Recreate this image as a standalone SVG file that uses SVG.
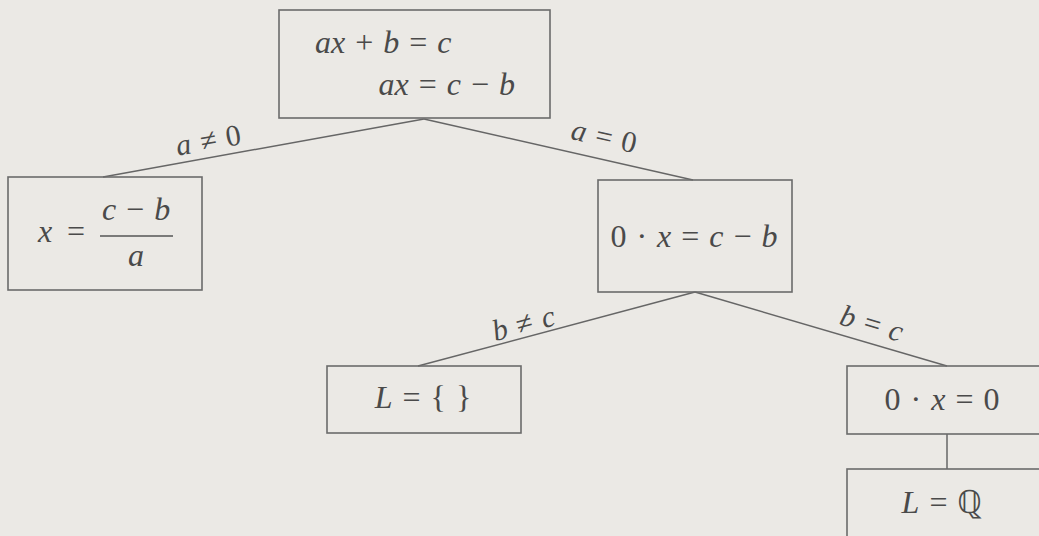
<svg xmlns="http://www.w3.org/2000/svg" width="1039" height="536" viewBox="0 0 1039 536">
<style>
.bg{fill:#ebe9e5}
.box{fill:none;stroke:#6b6b6b;stroke-width:1.6}
.edge{fill:none;stroke:#666;stroke-width:1.5}
text{font-family:"Liberation Serif","Times New Roman",serif;font-size:32px;fill:#4a4a4a;word-spacing:2px}
.i{font-style:italic}
.lbl{font-size:30px}
</style>
<rect class="bg" x="0" y="0" width="1039" height="536"/>
<g id="connectors">
<line class="edge" x1="424" y1="119" x2="103" y2="177"/>
<line class="edge" x1="424" y1="119" x2="693" y2="180"/>
<line class="edge" x1="695" y1="292" x2="418" y2="366"/>
<line class="edge" x1="695" y1="292" x2="947" y2="366"/>
<line class="edge" x1="947" y1="434" x2="947" y2="469"/>
<text class="lbl" transform="translate(210,150) rotate(-10.2)" text-anchor="middle"><tspan class="i">a</tspan> ≠ 0</text>
<text class="lbl" transform="translate(602,146) rotate(12.8)" text-anchor="middle"><tspan class="i">a</tspan> = 0</text>
<text class="lbl" transform="translate(526,333) rotate(-15)" text-anchor="middle"><tspan class="i">b</tspan> ≠ <tspan class="i">c</tspan></text>
<text class="lbl" transform="translate(869,333) rotate(16.4)" text-anchor="middle"><tspan class="i">b</tspan> = <tspan class="i">c</tspan></text>
</g>
<g id="node-root">
<rect class="box" x="279" y="10" width="271" height="108"/>
<text x="315" y="53"><tspan class="i">ax</tspan> + <tspan class="i">b</tspan> = <tspan class="i">c</tspan></text>
<text x="515" y="95" text-anchor="end"><tspan class="i">ax</tspan> = <tspan class="i">c</tspan> − <tspan class="i">b</tspan></text>
</g>
<g id="node-left">
<rect class="box" x="8" y="177" width="194" height="113"/>
<text x="38" y="242" class="i">x</text>
<text x="67" y="242">=</text>
<line x1="100" y1="236" x2="173" y2="236" stroke="#555" stroke-width="1.4"/>
<text x="136" y="220" text-anchor="middle"><tspan class="i">c</tspan> − <tspan class="i">b</tspan></text>
<text x="136" y="266" text-anchor="middle" class="i">a</text>
</g>
<g id="node-right">
<rect class="box" x="598" y="180" width="194" height="112"/>
<text x="694" y="247" text-anchor="middle">0 · <tspan class="i">x</tspan> = <tspan class="i">c</tspan> − <tspan class="i">b</tspan></text>
</g>
<g id="node-empty">
<rect class="box" x="327" y="366" width="194" height="67"/>
<text x="423" y="408" text-anchor="middle"><tspan class="i">L</tspan> = { }</text>
</g>
<g id="node-zero">
<rect class="box" x="847" y="366" width="200" height="68"/>
<text x="942" y="410" text-anchor="middle">0 · <tspan class="i">x</tspan> = 0</text>
</g>
<g id="node-q">
<rect class="box" x="847" y="469" width="200" height="80"/>
<text x="942" y="513" text-anchor="middle"><tspan class="i">L</tspan> = ℚ</text>
</g>
</svg>
